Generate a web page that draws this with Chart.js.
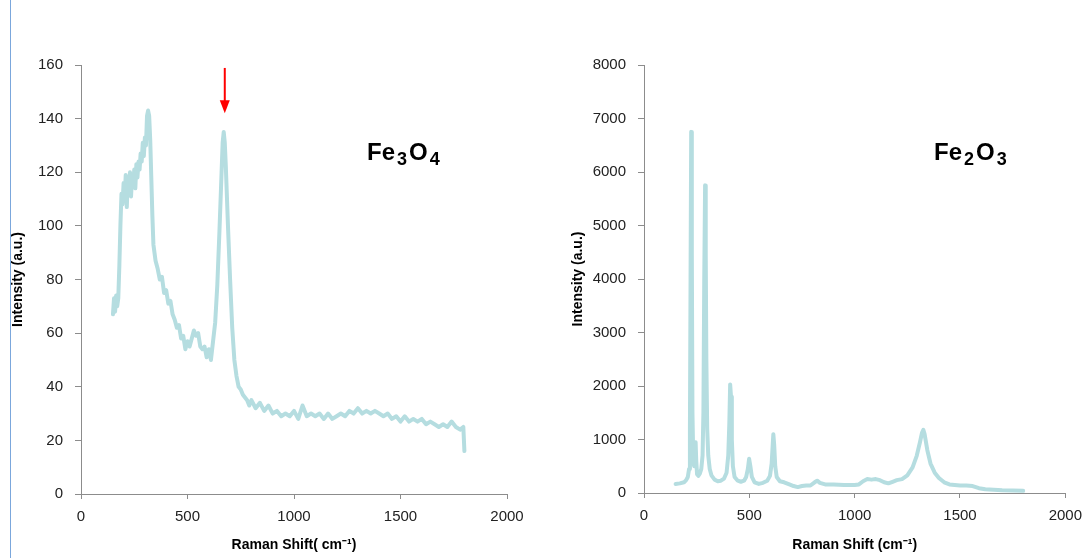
<!DOCTYPE html>
<html>
<head>
<meta charset="utf-8">
<script src="https://cdn.jsdelivr.net/npm/chart.js@4/dist/chart.umd.min.js"></script>
<style>
  html, body { margin: 0; padding: 0; background: #fff; }
  #page { position: relative; width: 1091px; height: 558px; overflow: hidden; }
  #leftRule { position: absolute; left: 10px; top: 0; width: 1px; height: 558px; background: #7ba7dc; }
  #boxLeft { position: absolute; left: 0; top: 0; width: 540px; height: 558px; }
  #boxRight { position: absolute; left: 545px; top: 0; width: 546px; height: 558px; }
</style>
</head>
<body>
<div id="page">
  <div id="boxLeft"><canvas id="chartFe3O4" width="540" height="558"></canvas></div>
  <div id="boxRight"><canvas id="chartFe2O3" width="546" height="558"></canvas></div>
  <div id="leftRule"></div>
</div>
<script>
// Fe3O4 spectrum
const fe3o4Shift = [150,155,160,165,170,175,180,185,190,195,200,205,210,215,220,225,230,235,240,245,
  250,255,260,265,270,275,280,285,290,295,300,305,310,315,320,325,330,335,340,345,
  350,360,370,380,390,400,410,420,430,440,450,460,470,480,490,500,510,520,530,540,
  550,560,570,580,590,600,610,620,630,640,650,660,665,670,675,680,690,700,710,720,
  730,740,750,760,770,780,790,800,820,840,860,880,900,920,940,960,980,1000,1020,1040,
  1060,1080,1100,1120,1140,1160,1180,1200,1220,1240,1260,1280,1300,1320,1340,1360,1380,1400,1420,1440,
  1460,1480,1500,1520,1540,1560,1580,1600,1620,1640,1660,1680,1700,1720,1740,1760,1780,1795,1800];
const fe3o4Intensity = [67,73,68,74,70,73,85,100,112,108,116,110,119,107,118,112,120,111,119,115,
  121,114,123,118,124,121,127,124,131,126,133,130,141,143,141,132,118,104,93,90,
  87,84,80,81,75,76,71,72,67,65,62,63,58,59,54,57,55,58,61,59,
  60,55,54,55,51,54,50,57,64,78,98,120,131,135,131,122,100,80,62,50,
  44,40,39,37,36,35,33,35,32,34,31,33,30,31,29,30,29,31,28,33,
  29,30,29,30,28,30,28,29,30,29,31,30,32,30,31,30,31,30,29,30,
  28,29,27,29,27,28,27,28,26,27,26,25,26,25,27,25,24,25,16];

// Fe2O3 spectrum
const fe2o3Shift = [150,170,190,200,208,214,218,221,224,227,230,234,238,242,245,248,252,258,265,272,
  278,282,286,290,293,296,300,305,312,320,335,350,365,380,392,400,405,409,413,417,
  422,430,445,460,475,485,493,499,505,512,525,545,565,585,598,606,611,614,618,623,
  630,645,665,690,710,730,750,770,790,810,822,835,860,900,950,1000,1020,1040,1060,1080,
  1100,1120,1140,1160,1180,1200,1225,1250,1275,1295,1310,1320,1326,1332,1345,1360,1380,1400,1425,1450,
  1500,1530,1560,1590,1620,1660,1700,1750,1800];
const fe2o3Intensity = [170,180,200,240,300,450,1200,4000,6750,4500,1500,600,500,800,950,600,350,320,360,450,
  700,1500,4000,5750,4500,2500,1200,700,450,330,250,220,230,270,380,700,1300,2030,1800,1000,
  500,300,230,210,230,300,450,640,500,300,200,170,190,230,320,550,900,1100,900,500,
  300,220,200,160,130,110,130,140,140,200,230,190,160,160,150,150,160,220,260,250,
  260,240,200,180,210,240,260,330,480,700,950,1130,1180,1100,800,550,380,280,200,160,
  140,140,130,90,70,60,50,45,40];

const xTicks = [0, 500, 1000, 1500, 2000];
const fe3o4Ticks = [0, 20, 40, 60, 80, 100, 120, 140, 160];
const fe2o3Ticks = [0, 1000, 2000, 3000, 4000, 5000, 6000, 7000, 8000];

const lineColor = '#b5dde0';
const axisColor = '#8c8c8c';
const fontFamily = '"Liberation Sans", Arial, sans-serif';

function toPoints(xs, ys) {
  return xs.map((x, i) => ({ x: x, y: ys[i] }));
}

// draws the formula label (with subscripts) and the optional arrow
function labelPlugin(parts, at, arrow) {
  return {
    id: 'formulaLabel',
    afterDatasetsDraw(chart) {
      const ctx = chart.ctx;
      const sx = chart.scales.x, sy = chart.scales.y;
      let px = sx.getPixelForValue(at.x);
      const py = sy.getPixelForValue(at.y);
      ctx.save();
      ctx.fillStyle = '#000';
      ctx.textBaseline = 'alphabetic';
      parts.forEach(p => {
        ctx.font = 'bold ' + (p.sub ? 18 : 24) + 'px ' + fontFamily;
        ctx.fillText(p.t, px, py + (p.sub ? 5 : 0));
        px += ctx.measureText(p.t).width + 2;
      });
      if (arrow) {
        const ax = sx.getPixelForValue(arrow.x);
        const top = sy.getPixelForValue(arrow.top);
        const tip = sy.getPixelForValue(arrow.tip);
        ctx.strokeStyle = '#ff0000';
        ctx.fillStyle = '#ff0000';
        ctx.lineWidth = 2;
        ctx.beginPath();
        ctx.moveTo(ax, top);
        ctx.lineTo(ax, tip - 10);
        ctx.stroke();
        ctx.beginPath();
        ctx.moveTo(ax - 5, tip - 13);
        ctx.lineTo(ax + 5, tip - 13);
        ctx.lineTo(ax, tip);
        ctx.closePath();
        ctx.fill();
      }
      ctx.restore();
    }
  };
}

function makeChart(id, xs, ys, yTicks, opts) {
  new Chart(document.getElementById(id), {
    type: 'scatter',
    data: {
      datasets: [{
        data: toPoints(xs, ys),
        showLine: true,
        borderColor: lineColor,
        borderWidth: 4,
        pointRadius: 0,
        tension: 0,
        borderJoinStyle: 'round',
        borderCapStyle: 'round'
      }]
    },
    options: {
      responsive: false,
      animation: false,
      layout: { padding: { left: 0, right: opts.padRight, top: 65, bottom: 0 } },
      plugins: { legend: { display: false }, tooltip: { enabled: false } },
      scales: {
        x: {
          type: 'linear',
          min: xTicks[0], max: xTicks[xTicks.length - 1],
          afterBuildTicks: s => { s.ticks = xTicks.map(v => ({ value: v })); },
          grid: { drawOnChartArea: false, color: axisColor, tickLength: 5 },
          border: { color: axisColor, width: 1 },
          ticks: {
            color: '#222', padding: 9, maxRotation: 0,
            font: { family: fontFamily, size: 15 },
            callback: v => String(v)
          },
          title: {
            display: true, text: opts.xTitle, color: '#000',
            padding: { top: 0, bottom: 4 },
            font: { family: fontFamily, size: 14, weight: 'bold' }
          },
          afterFit: s => { s.height = opts.xHeight; }
        },
        y: {
          type: 'linear',
          min: yTicks[0], max: yTicks[yTicks.length - 1],
          afterBuildTicks: s => { s.ticks = yTicks.map(v => ({ value: v })); },
          grid: { drawOnChartArea: false, color: axisColor, tickLength: 6 },
          border: { color: axisColor, width: 1 },
          ticks: {
            color: '#222', padding: 12,
            font: { family: fontFamily, size: 15 },
            callback: v => String(v)
          },
          title: {
            display: true, text: 'Intensity (a.u.)', color: '#000',
            padding: { top: opts.yTitlePad, bottom: 0 },
            font: { family: fontFamily, size: 14, weight: 'bold' }
          },
          afterFit: s => { s.width = opts.yWidth; }
        }
      }
    },
    plugins: [labelPlugin(opts.label, opts.labelAt, opts.arrow)]
  });
}

makeChart('chartFe3O4', fe3o4Shift, fe3o4Intensity, fe3o4Ticks, {
  padRight: 33, xHeight: 64, yWidth: 81, yTitlePad: 10,
  xTitle: 'Raman Shift( cm\u207B\u00B9)',
  label: [{ t: 'Fe' }, { t: '3', sub: true }, { t: 'O' }, { t: '4', sub: true }],
  labelAt: { x: 1343, y: 124.6 },
  arrow: { x: 675, top: 158.9, tip: 142 }
});

makeChart('chartFe2O3', fe2o3Shift, fe2o3Intensity, fe2o3Ticks, {
  padRight: 20, xHeight: 65, yWidth: 99, yTitlePad: 25,
  xTitle: 'Raman Shift (cm\u207B\u00B9)',
  label: [{ t: 'Fe' }, { t: '2', sub: true }, { t: 'O' }, { t: '3', sub: true }],
  labelAt: { x: 1377, y: 6224 },
  arrow: null
});
</script>
</body>
</html>
